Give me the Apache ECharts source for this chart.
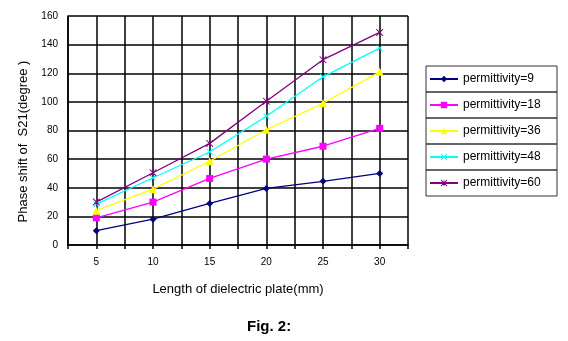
<!DOCTYPE html>
<html>
<head>
<meta charset="utf-8">
<script src="https://cdn.jsdelivr.net/npm/echarts@6/dist/echarts.min.js"></script>
<style>html,body{margin:0;padding:0;background:#fff}#c{width:568px;height:341px}</style>
</head>
<body>
<div id="c"></div>
<script>
const lengths = [5, 10, 15, 20, 25, 30];
const perm9 = [10, 18, 29, 39.5, 44.5, 50];
const perm18 = [19, 30, 46.5, 60, 69, 81.5];
const perm36 = [24, 39, 58.5, 80.5, 99, 121];
const perm48 = [28.5, 47, 65, 90, 117.5, 137.5];
const perm60 = [30, 50.5, 71, 100.5, 129.5, 148.5];
const seriesNames = ['permittivity=9', 'permittivity=18', 'permittivity=36', 'permittivity=48', 'permittivity=60'];
const yTicks = [0, 20, 40, 60, 80, 100, 120, 140, 160];

const colors = ['#000080', '#ff00ff', '#ffff00', '#00ffff', '#800080'];
const crossPath = 'path://M0,0 L2,0 L10,8 L18,0 L20,0 L20,2 L12,10 L20,18 L20,20 L18,20 L10,12 L2,20 L0,20 L0,18 L8,10 L0,2 Z';
const starPath = 'path://M0,0 L2,0 L10,8 L18,0 L20,0 L20,2 L12,10 L20,18 L20,20 L18,20 L10,12 L2,20 L0,20 L0,18 L8,10 L0,2 Z M9,0 L11,0 L11,20 L9,20 Z';
const symbols = ['diamond', 'rect', 'triangle', crossPath, starPath];
const sizes = [7, 7, 8, 6, 7];
const allData = [perm9, perm18, perm36, perm48, perm60];

const series = allData.map((vals, i) => ({
  name: seriesNames[i],
  type: 'line',
  data: lengths.map((x, j) => [x, vals[j]]),
  symbol: symbols[i],
  symbolSize: sizes[i],
  showAllSymbol: true,
  lineStyle: { color: colors[i], width: 1.3 },
  itemStyle: { color: colors[i] },
  animation: false
}));

const legends = seriesNames.map((n, i) => ({
  data: [n],
  left: 426,
  top: 66 + i * 26,
  orient: 'vertical',
  borderColor: '#333',
  borderWidth: 1,
  padding: [6, 6, 6, 3],
  itemWidth: 28,
  itemHeight: 8,
  itemGap: 0,
  textStyle: { fontFamily: 'Liberation Sans', fontSize: 12, color: '#000', width: 88, lineHeight: 14 }
}));

const chart = echarts.init(document.getElementById('c'));
chart.setOption({
  backgroundColor: '#fff',
  animation: false,
  title: {
    text: 'Fig. 2:',
    left: 247,
    top: 319,
    padding: 0,
    textStyle: { fontFamily: 'Liberation Sans', fontSize: 15, fontWeight: 'bold', color: '#000' }
  },
  legend: legends,
  grid: { left: 68, top: 16, right: 160, bottom: 96 },
  xAxis: {
    type: 'value',
    min: 2.5,
    max: 32.5,
    interval: 2.5,
    name: 'Length of dielectric plate(mm)',
    nameLocation: 'middle',
    nameGap: 38,
    nameTextStyle: { fontFamily: 'Liberation Sans', fontSize: 13, color: '#000' },
    axisLine: { show: true, lineStyle: { color: '#000', width: 1.5 } },
    axisTick: { show: true, length: 4, lineStyle: { color: '#000', width: 1.5 } },
    axisLabel: {
      fontFamily: 'Liberation Sans', fontSize: 10, color: '#000', margin: 12,
      formatter: v => (lengths.indexOf(v) >= 0 ? String(v) : '')
    },
    splitLine: { show: true, lineStyle: { color: '#000', width: 1.5 } }
  },
  yAxis: {
    type: 'value',
    min: yTicks[0],
    max: yTicks[yTicks.length - 1],
    interval: 20,
    name: 'Phase shift of  S21(degree )',
    nameLocation: 'middle',
    nameGap: 34,
    nameTextStyle: { fontFamily: 'Liberation Sans', fontSize: 13, color: '#000', padding: [0, 22, 0, 0] },
    axisLine: { show: true, lineStyle: { color: '#000', width: 1.5 } },
    axisTick: { show: false },
    axisLabel: { fontFamily: 'Liberation Sans', fontSize: 10, color: '#000', margin: 10 },
    splitLine: { show: true, lineStyle: { color: '#000', width: 1.5 } }
  },
  series: series
});
</script>
</body>
</html>
